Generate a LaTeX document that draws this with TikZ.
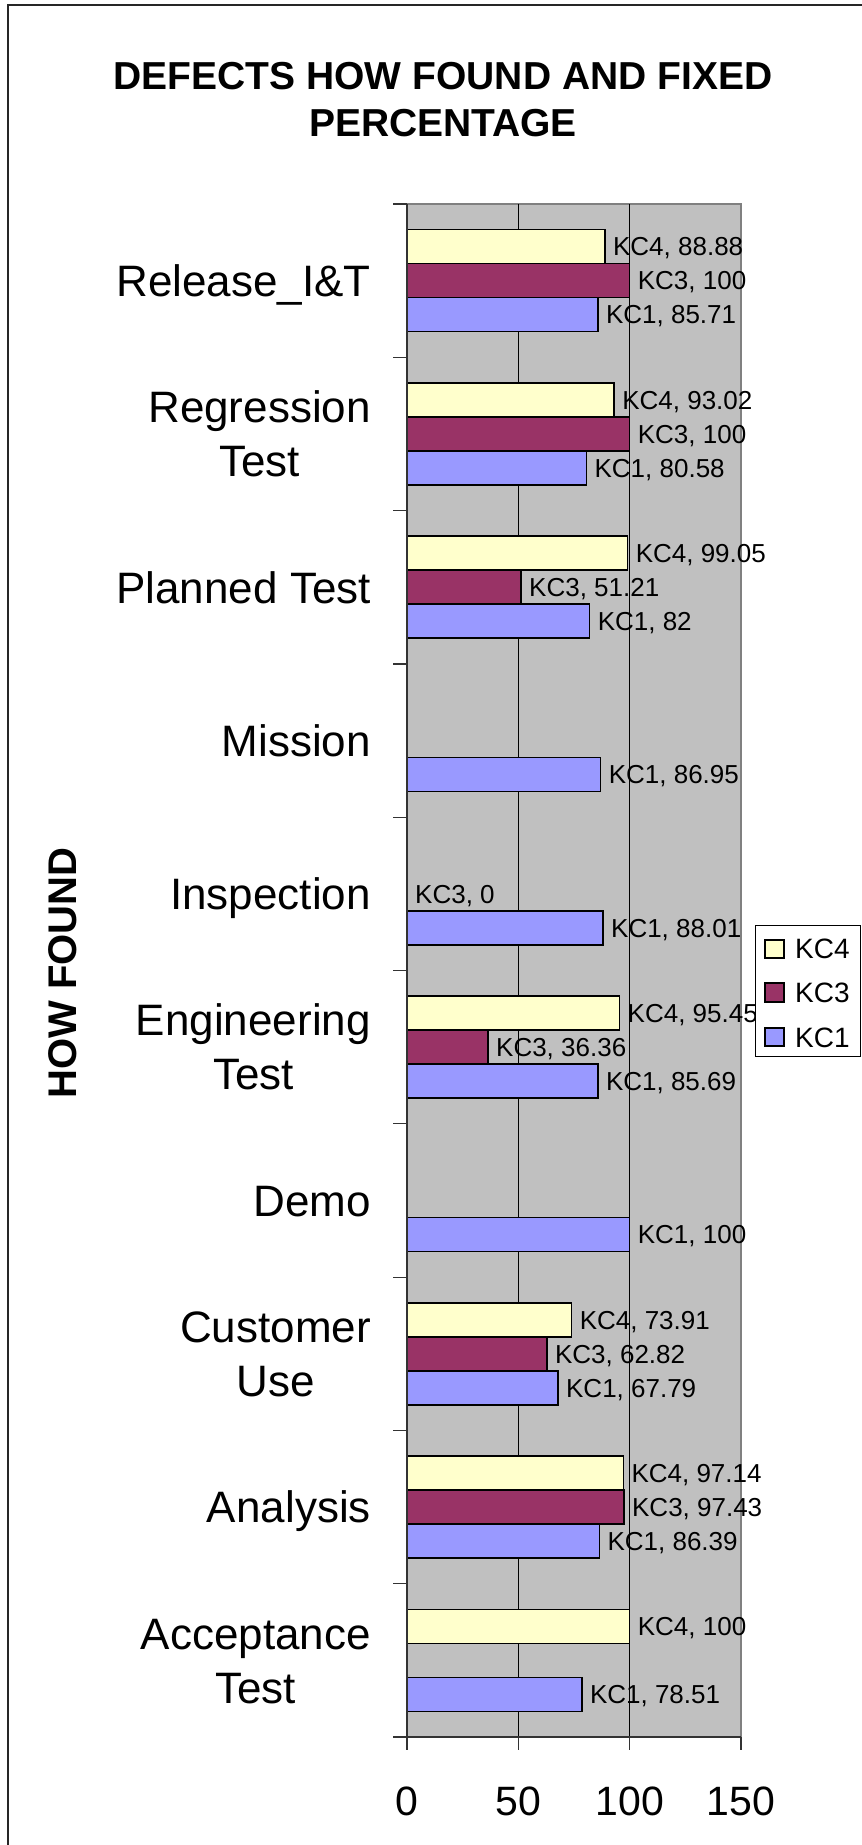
\documentclass[tikz,border=0pt]{standalone}
\usepackage{fontspec}
\setmainfont{Liberation Sans}
\definecolor{kcfour}{HTML}{FFFFCC}
\definecolor{kcthree}{HTML}{993366}
\definecolor{kcone}{HTML}{9999FF}
\definecolor{plotbg}{HTML}{C0C0C0}
\definecolor{plotedge}{HTML}{808080}
\begin{document}
\begin{tikzpicture}[x=1pt,y=-1pt,
  frame/.style={line width=1.5pt,draw=black!85},
  barbox/.style={draw=black,line width=1.6pt},
  gridln/.style={draw=black,line width=1pt},
  axisln/.style={draw=black!80,line width=1.2pt},
  vallabel/.style={anchor=base west,inner sep=0pt,font=\fontsize{26}{30}\selectfont},
  catlabel/.style={inner sep=0pt,font=\fontsize{44}{54}\selectfont},
  ticklabel/.style={anchor=base,inner sep=0pt,font=\fontsize{41}{48}\selectfont},
  titlelabel/.style={anchor=base,inner sep=0pt,font=\fontsize{39}{47}\selectfont\bfseries},
  leglabel/.style={anchor=base west,inner sep=0pt,font=\fontsize{28}{32}\selectfont},
  legkey/.style={draw=black,line width=1.3pt}
]
\useasboundingbox (0,0) rectangle (862,1845);
\fill[white] (0,0) rectangle (862,1845);
\draw[frame] (8,1845) -- (8,5) -- (862,5);

% title
\node[titlelabel] (title1) at (443,89) {DEFECTS HOW FOUND AND FIXED};
\node[titlelabel] (title2) at (443,136) {PERCENTAGE};

% plot area
\fill[plotbg] (407,204) rectangle (741,1737);
\draw[plotedge,line width=1.2pt] (407,204) -- (741,204) -- (741,1737);
\foreach \k in {1,2} \draw[gridln] ({407+111.333*\k},204) -- ({407+111.333*\k},1737);

% bars and value labels
\foreach \ci/\ser/\col/\nm/\val in {
  0/0/kcfour/KC4/88.88, 0/1/kcthree/KC3/100, 0/2/kcone/KC1/85.71,
  1/0/kcfour/KC4/93.02, 1/1/kcthree/KC3/100, 1/2/kcone/KC1/80.58,
  2/0/kcfour/KC4/99.05, 2/1/kcthree/KC3/51.21, 2/2/kcone/KC1/82,
  3/2/kcone/KC1/86.95,
  4/2/kcone/KC1/88.01,
  5/0/kcfour/KC4/95.45, 5/1/kcthree/KC3/36.36, 5/2/kcone/KC1/85.69,
  6/2/kcone/KC1/100,
  7/0/kcfour/KC4/73.91, 7/1/kcthree/KC3/62.82, 7/2/kcone/KC1/67.79,
  8/0/kcfour/KC4/97.14, 8/1/kcthree/KC3/97.43, 8/2/kcone/KC1/86.39,
  9/0/kcfour/KC4/100, 9/2/kcone/KC1/78.51}{
  \pgfmathsetmacro{\yc}{204+153.3*(\ci+0.5)-34+34*\ser}
  \pgfmathsetmacro{\xe}{407+2.22667*\val}
  \draw[barbox,fill=\col] (407,\yc-17) rectangle (\xe,\yc+17);
  \node[vallabel] (v-\ci-\ser) at (\xe+8,\yc+9.3) {\nm, \val};
}
\node[vallabel] (v-4-1) at (415,903.15) {KC3, 0};

% axes
\draw[axisln] (407,204) -- (407,1750);
\draw[axisln] (393,1737) -- (741,1737);
\foreach \k in {0,...,10} \draw[axisln] (393,{204+153.3*\k}) -- (407,{204+153.3*\k});
\foreach \k in {1,2,3} \draw[axisln] ({407+111.333*\k},1737) -- ({407+111.333*\k},1750);

% tick labels
\node[ticklabel] (t0) at (407,1815) {0};
\node[ticklabel] (t50) at (518.3,1815) {50};
\node[ticklabel] (t100) at (629.7,1815) {100};
\node[ticklabel] (t150) at (741,1815) {150};

% category labels
\node[catlabel,anchor=base east] (c0) at (371,296.4) {Release\_I\&T};
\node[catlabel,anchor=base east] (c1a) at (371,422.7) {Regression};
\node[catlabel,anchor=base] (c1b) at ([yshift=-54pt]c1a.base) {Test};
\node[catlabel,anchor=base east] (c2) at (371,603) {Planned Test};
\node[catlabel,anchor=base east] (c3) at (371,756.3) {Mission};
\node[catlabel,anchor=base east] (c4) at (371,909.6) {Inspection};
\node[catlabel,anchor=base east] (c5a) at (371,1035.9) {Engineering};
\node[catlabel,anchor=base] (c5b) at ([yshift=-54pt]c5a.base) {Test};
\node[catlabel,anchor=base east] (c6) at (371,1216.2) {Demo};
\node[catlabel,anchor=base east] (c7a) at (371,1342.5) {Customer};
\node[catlabel,anchor=base] (c7b) at ([yshift=-54pt]c7a.base) {Use};
\node[catlabel,anchor=base east] (c8) at (371,1522.8) {Analysis};
\node[catlabel,anchor=base east] (c9a) at (371,1649.1) {Acceptance};
\node[catlabel,anchor=base] (c9b) at ([yshift=-54pt]c9a.base) {Test};

% axis title
\node[rotate=90,inner sep=0pt,font=\fontsize{40}{48}\selectfont\bfseries] (yaxis) at (63,973) {HOW FOUND};

% legend
\draw[fill=white,draw=black,line width=1pt] (755,925) rectangle (860,1056);
\draw[legkey,fill=kcfour] (765,940) rectangle (784,958);
\draw[legkey,fill=kcthree] (765,983) rectangle (784,1002);
\draw[legkey,fill=kcone] (765,1028) rectangle (784,1046);
\node[leglabel] (leg4) at (795,958.5) {KC4};
\node[leglabel] (leg3) at (795,1002.5) {KC3};
\node[leglabel] (leg1) at (795,1047) {KC1};
\end{tikzpicture}
\end{document}
